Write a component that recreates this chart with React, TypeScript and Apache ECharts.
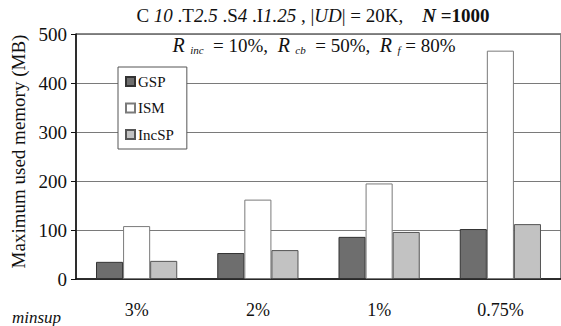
import React, { useEffect, useRef } from "react";
import * as echarts from "echarts";

const categories = ["3%", "2%", "1%", "0.75%"];
const seriesNames = ["GSP", "ISM", "IncSP"];
const gspValues = [35, 53, 86, 102];
const ismValues = [108, 162, 195, 466];
const incspValues = [37, 59, 96, 112];
const yTicks = { min: 0, max: 500, interval: 100 };

const SERIF = "Liberation Serif";

export default function App() {
  const ref = useRef<HTMLDivElement>(null);
  useEffect(() => {
    if (!ref.current) return;
    const chart = echarts.init(ref.current, undefined, { renderer: "svg" });
    const barStyles = [
      { color: "#6e6e6e", borderColor: "#333333", borderWidth: 1 },
      { color: "#ffffff", borderColor: "#7a7a7a", borderWidth: 1 },
      { color: "#c2c2c2", borderColor: "#555555", borderWidth: 1 },
    ];
    const values = [gspValues, ismValues, incspValues];
    chart.setOption({
      animation: false,
      backgroundColor: "#ffffff",
      textStyle: { fontFamily: SERIF },
      grid: {
        left: 76,
        right: -7,
        top: 34,
        bottom: 47,
        show: true,
        borderColor: "#111111",
        borderWidth: 1,
        backgroundColor: "transparent",
      },
      legend: {
        data: seriesNames,
        orient: "vertical",
        left: 118,
        top: 67,
        padding: [6, 13, 6, 7],
        itemWidth: 9,
        itemHeight: 9,
        itemGap: 9.5,
        backgroundColor: "#ffffff",
        borderColor: "#555555",
        borderWidth: 1,
        icon: "rect",
        textStyle: {
          fontFamily: SERIF,
          fontSize: 15,
          lineHeight: 17,
          color: "#111111",
          padding: [0, 0, 0, -2],
        },
      },
      xAxis: {
        type: "category",
        data: categories,
        axisLine: { lineStyle: { color: "#111111", width: 1.5 } },
        axisTick: { inside: true, length: 6, lineStyle: { color: "#111111" } },
        axisLabel: { fontFamily: SERIF, fontSize: 18, color: "#111111", margin: 22 },
        splitLine: { show: false },
      },
      yAxis: {
        type: "value",
        min: yTicks.min,
        max: yTicks.max,
        interval: yTicks.interval,
        name: "Maximum used memory (MB)",
        nameLocation: "middle",
        nameGap: 45,
        nameTextStyle: { fontFamily: SERIF, fontSize: 19, color: "#111111", padding: [0, 0, 0, 10] },
        axisLine: { show: true, lineStyle: { color: "#111111", width: 1.5 } },
        axisTick: { show: true, length: 5, lineStyle: { color: "#111111" } },
        axisLabel: { fontFamily: SERIF, fontSize: 19, color: "#111111", margin: 9 },
        splitLine: { show: true, lineStyle: { color: "#7a7a7a", width: 1 } },
      },
      series: seriesNames.map((name, i) => ({
        name,
        type: "bar",
        data: values[i],
        barGap: "0%",
        barCategoryGap: "33%",
        itemStyle: barStyles[i],
      })),
      graphic: [
        {
          type: "text",
          x: 313,
          y: 15,
          style: {
            text:
              "C {i|10} .T{i|2.5} .S{i|4} .I{i|1.25} , |{i|UD}| = 20K,    {bi|N} {b|=1000}",
            fontFamily: SERIF,
            fontSize: 19,
            fill: "#111111",
            align: "center",
            verticalAlign: "middle",
            rich: {
              i: { fontFamily: SERIF, fontSize: 19, fontStyle: "italic", fill: "#111111" },
              bi: { fontFamily: SERIF, fontSize: 19, fontStyle: "italic", fontWeight: "bold", fill: "#111111" },
              b: { fontFamily: SERIF, fontSize: 19, fontWeight: "bold", fill: "#111111" },
            },
          },
        },
        {
          type: "text",
          x: 314,
          y: 45,
          style: {
            text:
              "{R|R}{s|  inc}  = 10%,  {R|R}{s|  cb}  = 50%,  {R|R}{s|  f} = 80%",
            fontFamily: SERIF,
            fontSize: 19,
            fill: "#111111",
            align: "center",
            verticalAlign: "middle",
            rich: {
              R: { fontFamily: SERIF, fontSize: 20, fontStyle: "italic", fill: "#111111" },
              s: {
                fontFamily: SERIF,
                fontSize: 11,
                fontStyle: "italic",
                fill: "#111111",
                padding: [9, 0, 0, 0],
              },
            },
          },
        },
        {
          type: "text",
          x: 12,
          y: 317,
          style: {
            text: "minsup",
            fontFamily: SERIF,
            fontSize: 17,
            fontStyle: "italic",
            fill: "#111111",
            align: "left",
            verticalAlign: "middle",
          },
        },
      ],
    });
    return () => chart.dispose();
  }, []);
  return <div ref={ref} style={{ width: 561, height: 326, position: "absolute", left: 0, top: 0 }} />;
}
